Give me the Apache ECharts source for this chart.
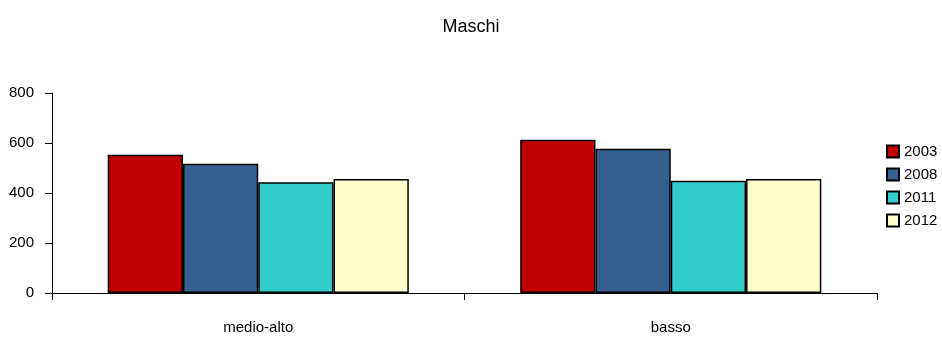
<!DOCTYPE html>
<html>
<head>
<meta charset="utf-8">
<script src="https://cdn.jsdelivr.net/npm/echarts@6/dist/echarts.min.js"></script>
<style>
  html, body { margin: 0; padding: 0; background: #fff; }
  #chart { width: 942px; height: 338px; }
</style>
</head>
<body>
<div id="chart"></div>
<script>
// Education level groups and yearly values
const categories = ['medio-alto', 'basso'];
const years = ['2003', '2008', '2011', '2012'];
const values2003 = [553, 613];
const values2008 = [517, 577];
const values2011 = [443, 449];
const values2012 = [456, 456];
const yTicks = [0, 200, 400, 600, 800];

const colors = ['#C00000', '#366092', '#33CCCC', '#FFFFCC'];
const seriesValues = [values2003, values2008, values2011, values2012];
const font = 'Liberation Sans, Arial, sans-serif';

const chart = echarts.init(document.getElementById('chart'));
chart.setOption({
  animation: false,
  title: {
    text: 'Maschi',
    left: 'center',
    top: 13,
    textStyle: { fontFamily: font, fontSize: 18, fontWeight: 'normal', color: '#000' }
  },
  legend: {
    orient: 'vertical',
    left: 881,
    top: 139,
    padding: 5,
    itemWidth: 12,
    itemHeight: 12,
    itemGap: 8,
    icon: 'rect',
    textStyle: { fontFamily: font, fontSize: 15, color: '#000' },
    data: years
  },
  grid: { left: 52, right: 65, top: 93, bottom: 45 },
  xAxis: {
    type: 'category',
    data: categories,
    axisLine: { lineStyle: { color: '#000', width: 1 } },
    axisTick: { show: true, length: 7, lineStyle: { color: '#000' } },
    axisLabel: { fontFamily: font, fontSize: 15, color: '#000', margin: 27 }
  },
  yAxis: {
    type: 'value',
    min: yTicks[0],
    max: yTicks[yTicks.length - 1],
    interval: 200,
    splitLine: { show: false },
    axisLine: { show: true, lineStyle: { color: '#000', width: 1 } },
    axisTick: { show: true, length: 7, lineStyle: { color: '#000' } },
    axisLabel: { fontFamily: font, fontSize: 15, color: '#000', margin: 18 }
  },
  series: years.map((y, i) => ({
    name: y,
    type: 'bar',
    data: seriesValues[i],
    barGap: '0%',
    barCategoryGap: '27%',
    itemStyle: { color: colors[i], borderColor: '#000', borderWidth: 1.5 }
  }))
});
</script>
</body>
</html>
